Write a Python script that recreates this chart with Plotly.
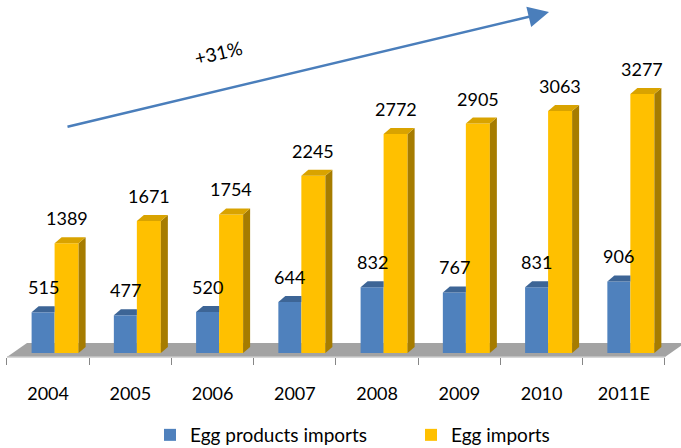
import plotly.graph_objects as go

categories = ["2004", "2005", "2006", "2007", "2008", "2009", "2010", "2011E"]
egg_products = [515, 477, 520, 644, 832, 767, 831, 906]
egg_imports = [1389, 1671, 1754, 2245, 2772, 2905, 3063, 3277]
growth_label = "+31%"

# geometry (category units / value units)
PX_X = 82.25      # px per category
PX_Y = 0.079      # px per value unit
DX = 7 / PX_X     # 3D depth offset
DY = 6 / PX_Y
B0, B1 = -0.2006, 0.079
Y0, Y1 = 0.079, 0.371

BLUE, BLUE_TOP = "#4F81BD", "#3D6596"
YEL, YEL_TOP, YEL_SIDE = "#FFC000", "#D9A300", "#A67C00"
FONT = "Lato"

xs = list(range(len(categories)))
fig = go.Figure()

fig.add_trace(go.Bar(x=xs, y=egg_products, base=0, offset=B0, width=B1 - B0,
                     marker=dict(color=BLUE, line=dict(width=0)),
                     name="Egg products imports"))
fig.add_trace(go.Bar(x=xs, y=egg_imports, base=0, offset=Y0, width=Y1 - Y0,
                     marker=dict(color=YEL, line=dict(width=0)),
                     name="Egg imports"))

# 3D faces
for i, (b, y) in enumerate(zip(egg_products, egg_imports)):
    x0, x1 = i + B0, i + B1
    fig.add_trace(go.Scatter(x=[x0, x1, x1, x0 + DX, x0], y=[b, b, b + DY, b + DY, b],
                             fill="toself", fillcolor=BLUE_TOP, mode="lines",
                             line=dict(width=0, color=BLUE_TOP), showlegend=False, hoverinfo="skip"))
    x0, x1 = i + Y0, i + Y1
    fig.add_trace(go.Scatter(x=[x1, x1, x1 + DX, x1 + DX, x1], y=[0, y, y + DY, DY, 0],
                             fill="toself", fillcolor=YEL_SIDE, mode="lines",
                             line=dict(width=0, color=YEL_SIDE), showlegend=False, hoverinfo="skip"))
    fig.add_trace(go.Scatter(x=[x0, x1, x1 + DX, x0 + DX, x0], y=[y, y, y + DY, y + DY, y],
                             fill="toself", fillcolor=YEL_TOP, mode="lines",
                             line=dict(width=0, color=YEL_TOP), showlegend=False, hoverinfo="skip"))

annotations = []
for i, (b, y) in enumerate(zip(egg_products, egg_imports)):
    annotations.append(dict(x=i + (B0 + B1) / 2, y=b, xref="x", yref="y", text=str(b),
                            showarrow=False, yanchor="middle", yshift=25,
                            font=dict(family=FONT, size=18, color="#000000")))
    annotations.append(dict(x=i + (Y0 + Y1) / 2, y=y, xref="x", yref="y", text=str(y),
                            showarrow=False, yanchor="middle", yshift=25,
                            font=dict(family=FONT, size=18, color="#000000")))

W, H = 681, 448
annotations.append(dict(x=549 / W, y=1 - 12 / H, xref="paper", yref="paper", text="",
                        showarrow=True, ax=-483, ay=115, axref="pixel", ayref="pixel",
                        arrowhead=2, arrowsize=1.6, arrowwidth=2.6, arrowcolor="#4A7EBB",
                        standoff=0, startstandoff=0))
annotations.append(dict(x=218 / W, y=1 - 52 / H, xref="paper", yref="paper", text=growth_label,
                        showarrow=False, textangle=-13, xanchor="center", yanchor="middle",
                        font=dict(family=FONT, size=19, color="#000000")))

n = len(categories)
front_y = -4 / PX_Y
back_y = 10 / PX_Y
shift = 20 / PX_X
shapes = [
    dict(type="path", xref="x", yref="y", layer="below",
         path=f"M {-0.5} {front_y} L {n - 0.5} {front_y} L {n - 0.5 + shift} {back_y} "
              f"L {-0.5 + shift} {back_y} Z",
         fillcolor="#A3A3A3", line=dict(width=0)),
    dict(type="line", xref="x", yref="y", layer="below",
         x0=-0.5, x1=n - 0.5, y0=front_y, y1=front_y,
         line=dict(color="#C8C8C8", width=1.5)),
]

fig.update_layout(
    width=W, height=H, margin=dict(l=0, r=0, t=0, b=0, autoexpand=False),
    paper_bgcolor="#FFFFFF", plot_bgcolor="#FFFFFF",
    barmode="overlay", showlegend=True,
    legend=dict(orientation="h", x=150 / W, xanchor="left", y=1 - 435 / H, yanchor="middle",
                font=dict(family=FONT, size=19, color="#000000"),
                entrywidth=216, bgcolor="rgba(0,0,0,0)"),
    annotations=annotations, shapes=shapes,
    xaxis=dict(range=[-48.1 / PX_X, (W - 48.1) / PX_X], tickmode="array", tickvals=xs,
               ticktext=categories, ticks="", showgrid=False, zeroline=False, showline=False,
               anchor="free", position=1 - 357 / H, ticklabelstandoff=24,
               tickfont=dict(family=FONT, size=18, color="#000000"),
               minor=dict(tickmode="linear", tick0=-0.5, dtick=1, ticks="outside", ticklen=7,
                          tickcolor="#868686", tickwidth=1, showgrid=False)),
    yaxis=dict(range=[-(H - 353) / PX_Y, 353 / PX_Y], visible=False, showgrid=False,
               zeroline=False),
)

fig.write_html("out.html")
